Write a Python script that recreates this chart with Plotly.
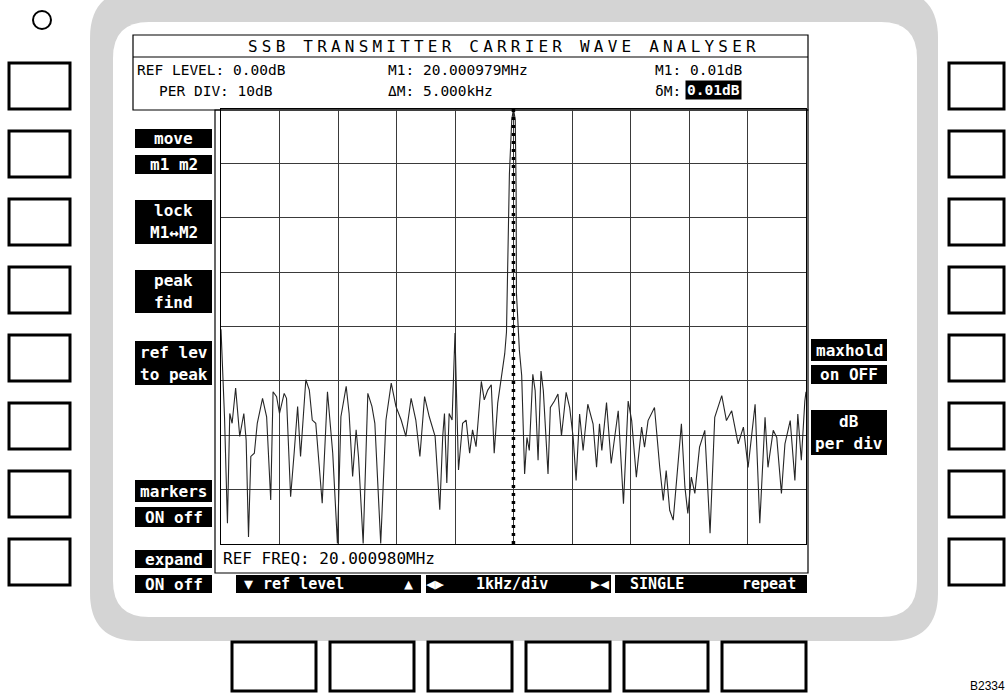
import plotly.graph_objects as go

# ---------------------------------------------------------------------------
# Spectrum trace: offset from the reference frequency (kHz) and level (dB)
# ---------------------------------------------------------------------------
FREQ_OFFSET_KHZ = [
    -5.00, -4.98, -4.96, -4.94, -4.89, -4.85, -4.81, -4.75, -4.68, -4.61,
    -4.57, -4.53, -4.49, -4.43, -4.38, -4.29, -4.22, -4.15, -4.11, -4.05,
    -4.00, -3.92, -3.88, -3.81, -3.75, -3.69, -3.64, -3.55, -3.49, -3.44,
    -3.38, -3.27, -3.18, -3.09, -3.01, -2.95, -2.86, -2.81, -2.75, -2.69,
    -2.65, -2.57, -2.49, -2.42, -2.37, -2.27, -2.18, -2.09, -2.01, -1.92,
    -1.84, -1.75, -1.67, -1.60, -1.52, -1.44, -1.34, -1.26, -1.21, -1.18,
    -1.14, -1.10, -1.05, -1.02, -1.00, -0.98, -0.94, -0.87, -0.81, -0.75,
    -0.70, -0.64, -0.55, -0.50, -0.44, -0.38, -0.33, -0.27, -0.19, -0.15,
    -0.12, -0.10, -0.07, -0.03, -0.001, 0.03, 0.045, 0.05, 0.10, 0.14,
    0.16, 0.19, 0.23, 0.27, 0.33, 0.37, 0.42, 0.47, 0.51, 0.56,
    0.59, 0.63, 0.70, 0.76, 0.82, 0.90, 0.96, 1.02, 1.07, 1.13,
    1.19, 1.27, 1.36, 1.42, 1.47, 1.51, 1.59, 1.67, 1.79, 1.88,
    1.96, 2.02, 2.10, 2.19, 2.24, 2.30, 2.41, 2.50, 2.56, 2.61,
    2.67, 2.73, 2.79, 2.87, 2.93, 2.98, 3.04, 3.10, 3.18, 3.27,
    3.36, 3.44, 3.56, 3.64, 3.73, 3.84, 3.93, 4.01, 4.13, 4.21,
    4.30, 4.35, 4.44, 4.50, 4.58, 4.64, 4.73, 4.81, 4.86, 4.92,
    4.98, 5.00,
]
LEVEL_DB = [
    -40.5, -45.0, -51.0, -56.6, -76.2, -56.0, -57.8, -51.3, -60.2, -56.0,
    -60.9, -78.7, -63.9, -63.3, -57.8, -53.2, -56.6, -71.9, -52.0, -52.9,
    -56.0, -52.3, -53.2, -71.3, -63.3, -54.7, -63.9, -49.8, -51.7, -57.2,
    -57.8, -72.5, -52.0, -63.3, -79.9, -56.6, -51.0, -56.0, -67.6, -59.0,
    -63.9, -79.9, -52.3, -54.7, -57.8, -79.9, -57.2, -50.4, -54.7, -57.2,
    -60.2, -53.2, -57.2, -63.9, -52.9, -56.6, -60.2, -73.7, -60.2, -56.0,
    -68.8, -56.0, -57.2, -48.0, -41.2, -50.0, -66.4, -57.8, -57.2, -63.3,
    -59.0, -62.1, -50.1, -53.5, -51.7, -50.7, -63.3, -54.1, -48.6, -45.0,
    -41.0, -28.0, -12.0, -2.0, 0.01, -2.0, -15.0, -33.8, -44.3, -49.0,
    -57.3, -67.1, -60.4, -62.8, -48.8, -51.8, -64.6, -48.2, -51.8, -60.4,
    -67.1, -54.9, -53.7, -52.4, -60.1, -52.1, -54.9, -60.4, -68.3, -56.1,
    -62.8, -54.3, -57.9, -65.9, -57.9, -62.8, -54.0, -65.2, -55.5, -72.6,
    -53.7, -57.3, -67.7, -58.5, -62.2, -57.3, -54.9, -65.9, -72.0, -66.5,
    -73.8, -75.6, -68.3, -57.9, -69.5, -74.4, -67.7, -70.7, -62.2, -59.1,
    -78.0, -56.7, -52.7, -57.3, -55.5, -61.6, -58.5, -65.9, -54.3, -76.2,
    -56.7, -65.9, -59.1, -60.4, -70.7, -61.6, -57.3, -68.3, -56.1, -64.6,
    -53.7, -52.0,
]

# Instrument settings shown in the header
REF_FREQ_MHZ = 20.000980
REF_LEVEL_DB = 0.00
DB_PER_DIV = 10
KHZ_PER_DIV = 1
N_XDIV = 10
N_YDIV = 8
M1_FREQ_MHZ = 20.000979
M1_LEVEL_DB = 0.01
DELTA_M_KHZ = 5.000
DELTA_M_DB = 0.01

TITLE = "SSB TRANSMITTER CARRIER WAVE ANALYSER"

# Soft-key captions (one entry per black caption block)
LEFT_KEYS = [["move"], ["m1 m2"], ["lock", "M1↔M2"], ["peak", "find"],
             ["ref lev", "to peak"], ["markers"], ["ON off"], ["expand"], ["ON off"]]
RIGHT_KEYS = [["maxhold"], ["on OFF"], ["dB", "per div"]]
BOTTOM_KEYS = [["▼", "ref level", "▲"], ["◀▶", "1kHz/div", "▶◀"], ["SINGLE", "repeat"]]
PLATE_ID = "B2334"

# ---------------------------------------------------------------------------
# Page geometry helpers (pixel positions on the 1008 x 693 page)
# ---------------------------------------------------------------------------
W, H = 1008, 693
MONO = "DejaVu Sans Mono"


def px(x):
    return x / W


def py(y):
    return 1 - y / H


shapes = []
annotations = []


def rect(x0, y0, x1, y1, fill="rgba(0,0,0,0)", color="black", width=1.0, layer="below"):
    shapes.append(dict(type="rect", xref="paper", yref="paper",
                       x0=px(x0), x1=px(x1), y0=py(y1), y1=py(y0),
                       fillcolor=fill, line=dict(color=color, width=width), layer=layer))


def hline(x0, x1, y, color="black", width=1.0):
    shapes.append(dict(type="line", xref="paper", yref="paper",
                       x0=px(x0), x1=px(x1), y0=py(y), y1=py(y),
                       line=dict(color=color, width=width), layer="below"))


def rounded(x0, y0, x1, y1, r, fill):
    p = lambda x, y: f"{px(x):.5f},{py(y):.5f}"
    path = (f"M {p(x0 + r, y0)} L {p(x1 - r, y0)} Q {p(x1, y0)} {p(x1, y0 + r)} "
            f"L {p(x1, y1 - r)} Q {p(x1, y1)} {p(x1 - r, y1)} "
            f"L {p(x0 + r, y1)} Q {p(x0, y1)} {p(x0, y1 - r)} "
            f"L {p(x0, y0 + r)} Q {p(x0, y0)} {p(x0 + r, y0)} Z")
    shapes.append(dict(type="path", xref="paper", yref="paper", path=path,
                       fillcolor=fill, line=dict(width=0), layer="below"))


def text(x, y, s, size=14.5, color="black", xanchor="center", bold=False, family=MONO, **kw):
    if bold:
        s = f"<b>{s}</b>"
    annotations.append(dict(xref="paper", yref="paper", x=px(x), y=py(y), text=s,
                            showarrow=False, xanchor=xanchor, yanchor="middle",
                            font=dict(family=family, size=size, color=color), **kw))


# ---------------------------------------------------------------------------
# Instrument front panel
# ---------------------------------------------------------------------------
# screen bezel (stippled grey band with rounded corners)
rounded(90, -10, 938, 641, 48, "#d4d4d4")
rounded(113, 22, 917, 617, 36, "white")

# indicator lamp
shapes.append(dict(type="circle", xref="paper", yref="paper",
                   x0=px(33), x1=px(51), y0=py(29), y1=py(11),
                   line=dict(color="black", width=2), layer="below"))

# side and bottom push buttons
for k in range(8):
    top = 63 + 68 * k
    rect(9, top, 70, top + 46, fill="white", width=3)
    rect(949, top, 1004, top + 46, fill="white", width=3)
for x0 in [232, 330, 428, 526, 624, 722]:
    rect(x0, 642, x0 + 84, 691, fill="white", width=3)

text(968, 686, PLATE_ID, size=12, xanchor="left", family="Liberation Sans")

# display frames
rect(133, 35, 808, 110, width=1.2)
hline(133, 808, 57, width=1.2)
rect(215, 110, 808, 573, width=1.2)

# header text
text(504, 47, f'<span style="letter-spacing:4.2px">{TITLE}</span>', size=16)
text(135, 70, f"REF LEVEL: {REF_LEVEL_DB:.2f}dB", xanchor="left")
text(157, 91, f"PER DIV: {DB_PER_DIV}dB", xanchor="left")
text(386, 70, f"M1: {M1_FREQ_MHZ:.6f}MHz", xanchor="left")
text(386, 91, f"ΔM: {DELTA_M_KHZ:.3f}kHz", xanchor="left")
text(653, 70, f"M1: {M1_LEVEL_DB:.2f}dB", xanchor="left")
text(653, 91, "δM:", xanchor="left")
text(685, 90, f"{DELTA_M_DB:.2f}dB", xanchor="left", color="white", bold=True,
     bgcolor="black", borderpad=1)
text(221, 558, f"REF FREQ: {REF_FREQ_MHZ:.6f}MHz", size=16, xanchor="left")

# soft-key caption blocks: (x0, y0, x1, y1) for each caption list entry
LEFT_BLOCKS = [(135, 129, 212, 148), (135, 155, 212, 174), (135, 200, 212, 244),
               (135, 270, 212, 313), (135, 341, 212, 385), (135, 480, 212, 502),
               (135, 507, 212, 527), (135, 550, 212, 568), (135, 575, 212, 593)]
RIGHT_BLOCKS = [(811, 339, 887, 361), (811, 365, 887, 384), (811, 410, 887, 455)]


def caption_block(box, lines):
    x0, y0, x1, y1 = box
    rect(x0, y0, x1, y1, fill="black", width=0)
    n = len(lines)
    step = (y1 - y0) / n
    for i, s in enumerate(lines):
        text((x0 + x1) / 2, y0 + step * (i + 0.5), s, size=16, color="white", bold=True)


for box, lines in zip(LEFT_BLOCKS, LEFT_KEYS):
    caption_block(box, lines)
for box, lines in zip(RIGHT_BLOCKS, RIGHT_KEYS):
    caption_block(box, lines)

BOTTOM_BLOCKS = [(236, 575, 421), (426, 575, 611), (615, 575, 807)]
BOTTOM_TEXT_X = [[248, 303, 408], [435, 512, 600], [657, 769]]
for (x0, y0, x1), lines, xs in zip(BOTTOM_BLOCKS, BOTTOM_KEYS, BOTTOM_TEXT_X):
    rect(x0, y0, x1, y0 + 18, fill="black", width=0)
    for s, xc in zip(lines, xs):
        text(xc, y0 + 9, s, size=15, color="white", bold=True)

# ---------------------------------------------------------------------------
# Spectrum graticule and trace
# ---------------------------------------------------------------------------
m1_offset_khz = (M1_FREQ_MHZ - REF_FREQ_MHZ) * 1000.0
half_span = N_XDIV * KHZ_PER_DIV / 2
bottom_db = REF_LEVEL_DB - N_YDIV * DB_PER_DIV

fig = go.Figure()
fig.add_trace(go.Scatter(x=FREQ_OFFSET_KHZ, y=LEVEL_DB, mode="lines",
                         line=dict(color="#262626", width=1.1), hoverinfo="skip"))

# marker M1: dashed vertical cursor and its tag
shapes.append(dict(type="line", xref="x", yref="y domain", x0=m1_offset_khz, x1=m1_offset_khz,
                   y0=0, y1=1, line=dict(color="black", width=3.5, dash="3px,5px"), layer="above"))
annotations.append(dict(xref="x", yref="y", x=m1_offset_khz, y=M1_LEVEL_DB, text="m",
                        showarrow=False, xanchor="left", yanchor="top", xshift=11, yshift=-1,
                        font=dict(family=MONO, size=8, color="black"),
                        bordercolor="black", borderwidth=1, borderpad=0, bgcolor="white"))

fig.update_layout(
    width=W, height=H, margin=dict(l=0, r=0, t=0, b=0),
    paper_bgcolor="white", plot_bgcolor="rgba(0,0,0,0)",
    showlegend=False, shapes=shapes, annotations=annotations,
    xaxis=dict(domain=[px(221), px(806)], range=[-half_span, half_span], dtick=KHZ_PER_DIV,
               showgrid=True, gridcolor="#3a3a3a", gridwidth=1, zeroline=False,
               showticklabels=False, ticks="", showline=True, mirror=True,
               linecolor="black", linewidth=1.2, fixedrange=True),
    yaxis=dict(domain=[py(544), py(109)], range=[bottom_db, REF_LEVEL_DB], dtick=DB_PER_DIV,
               showgrid=True, gridcolor="#3a3a3a", gridwidth=1, zeroline=False,
               showticklabels=False, ticks="", showline=True, mirror=True,
               linecolor="black", linewidth=1.2, fixedrange=True),
)

fig.write_html("out.html")
